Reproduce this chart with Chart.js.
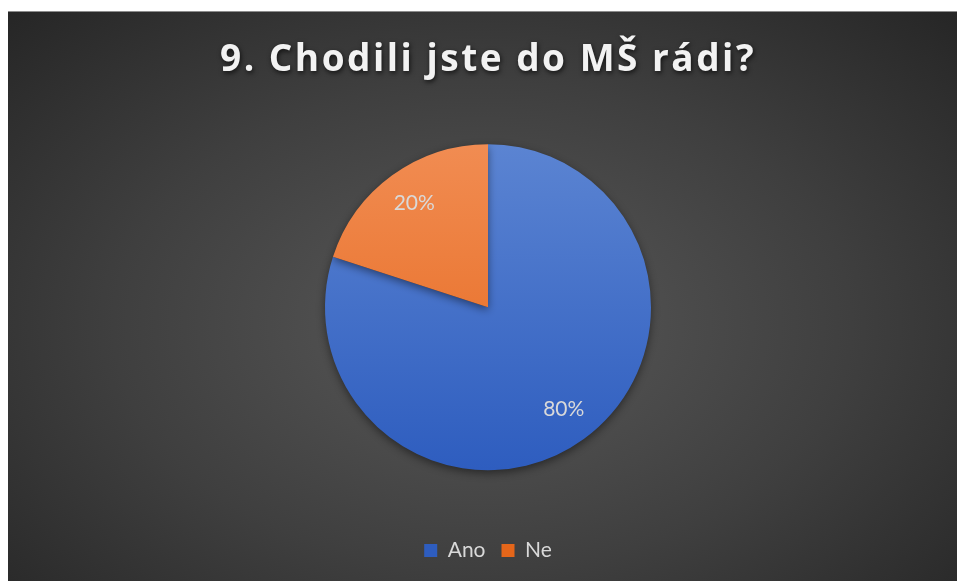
<!DOCTYPE html>
<html>
<head>
<meta charset="utf-8">
<script src="https://cdn.jsdelivr.net/npm/chart.js@4/dist/chart.umd.min.js"></script>
<style>
  html, body { margin: 0; padding: 0; background: #fff; }
  #wrap {
    position: absolute; left: 8px; top: 11px; width: 949px; height: 570px;
    border-top: 1px solid #8c8c8c; box-sizing: border-box;
    background: radial-gradient(ellipse farthest-corner at 50% 55%, #595959 0%, #3f3f3f 55%, #262626 100%);
  }
  canvas { display: block; }
</style>
</head>
<body>
<div id="wrap"><canvas id="canvas" width="949" height="569"></canvas></div>
<script>
const titleText = '9. Chodili jste do MŠ rádi?';
const categories = ['Ano', 'Ne'];
const values = [80, 20];
const topColors = ['#5b84d2', '#f18c52'];
const bottomColors = ['#2e5dbf', '#e5661a'];

const canvas = document.getElementById('canvas');
const ctx = canvas.getContext('2d');

const pieRadius = 163;

function sliceColor(c) {
    const chart = c.chart;
    const area = chart.chartArea;
    const i = c.dataIndex;
    if (!area) return topColors[i];
    const cy = (area.top + area.bottom) / 2;
    const g = chart.ctx.createLinearGradient(0, cy - pieRadius, 0, cy + pieRadius);
    g.addColorStop(0, topColors[i]);
    g.addColorStop(1, bottomColors[i]);
    return g;
}

// title shadow + spacing, pie shadow, labels inside slices
const effects = {
    id: 'effects',
    beforeDraw(chart) {
        const tb = chart.titleBlock;
        if (tb && !tb._wrapped) {
            const orig = tb.draw.bind(tb);
            tb.draw = function () {
                const c = chart.ctx;
                c.save();
                c.letterSpacing = '2.5px';
                c.shadowColor = 'rgba(0,0,0,0.7)';
                c.shadowBlur = 5;
                c.shadowOffsetX = 1;
                c.shadowOffsetY = 2;
                orig();
                c.restore();
            };
            tb._wrapped = true;
        }
    },
    beforeDatasetsDraw(chart) {
        const c = chart.ctx;
        c.save();
        c.shadowColor = 'rgba(0,0,0,0.45)';
        c.shadowBlur = 8;
        c.shadowOffsetY = 3;
    },
    afterDatasetsDraw(chart) {
        const c = chart.ctx;
        c.restore();
        const meta = chart.getDatasetMeta(0);
        const total = values.reduce((a, v) => a + v, 0);
        c.save();
        c.font = '21px Lato';
        c.fillStyle = '#d9d9d9';
        c.textAlign = 'center';
        c.textBaseline = 'middle';
        meta.data.forEach((arc, i) => {
            const mid = (arc.startAngle + arc.endAngle) / 2;
            const r = arc.outerRadius * 0.78;
            const x = arc.x + Math.cos(mid) * r;
            const y = arc.y + Math.sin(mid) * r;
            c.fillText(Math.round(values[i] / total * 100) + '%', x + 1, y - 1);
        });
        c.restore();
    }
};

new Chart(ctx, {
    type: 'pie',
    data: {
        labels: categories,
        datasets: [{
            data: values,
            backgroundColor: sliceColor,
            borderWidth: 0,
            radius: pieRadius
        }]
    },
    options: {
        responsive: false,
        animation: false,
        layout: { padding: { left: 11, bottom: 10 } },
        plugins: {
            title: {
                display: true,
                text: titleText,
                color: '#f2f2f2',
                font: { family: 'Open Sans', size: 37, weight: 'bold' },
                padding: { top: 26, bottom: 8 }
            },
            legend: {
                position: 'bottom',
                labels: {
                    color: '#d9d9d9',
                    font: { family: 'Lato', size: 21 },
                    boxWidth: 13,
                    boxHeight: 13,
                    padding: 16
                }
            },
            tooltip: { enabled: false }
        }
    },
    plugins: [effects]
});
</script>
</body>
</html>
